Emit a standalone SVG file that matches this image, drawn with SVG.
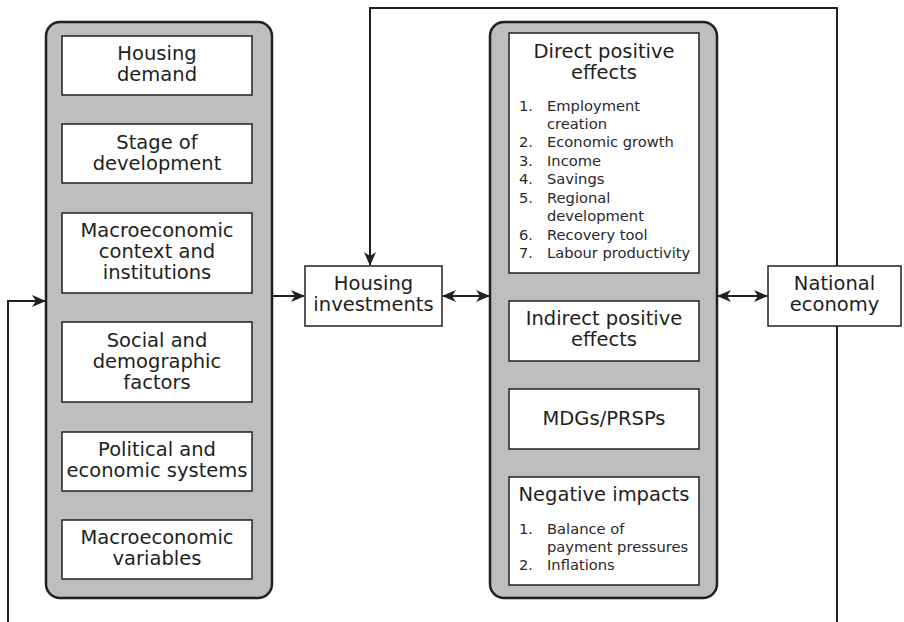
<svg xmlns="http://www.w3.org/2000/svg" width="904" height="622" viewBox="0 0 904 622">
<style>
.cont{fill:#bcbec0;stroke:#231f20;stroke-width:2.5}
.box{fill:#fff;stroke:#231f20;stroke-width:1.5}
.t{font-family:"DejaVu Sans","Open Sans","Liberation Sans",sans-serif;font-size:19.5px;fill:#231f20;text-anchor:middle}
.l{font-family:"DejaVu Sans","Open Sans","Liberation Sans",sans-serif;font-size:14.7px;fill:#2b2829}
.c{fill:none;stroke:#231f20;stroke-width:2}
</style>
<defs>
<marker id="ah" markerUnits="userSpaceOnUse" markerWidth="14" markerHeight="12" refX="13" refY="6" orient="auto-start-reverse" viewBox="0 0 14 12">
<path d="M0,0 L14,6 L0,12 L4,6 z" fill="#231f20"/>
</marker>
</defs>
<g id="connectors">
<path class="c" d="M8,622 V301 H45" marker-end="url(#ah)"/>
<path class="c" d="M272,296 H304" marker-end="url(#ah)"/>
<path class="c" d="M443,296 H489" marker-start="url(#ah)" marker-end="url(#ah)"/>
<path class="c" d="M718,296 H767" marker-start="url(#ah)" marker-end="url(#ah)"/>
<path class="c" d="M837,266 V8 H370 V265" marker-end="url(#ah)"/>
<path class="c" d="M837,326 V622"/>
</g>
<g id="determinants">
<rect class="cont" x="46" y="22" width="226" height="576" rx="14"/>
</g>
<g id="housing-demand"><rect class="box" x="62" y="36" width="190" height="59"/>
<text class="t" x="157" y="60">Housing</text><text class="t" x="157" y="81">demand</text></g>
<g id="stage-of-development"><rect class="box" x="62" y="124" width="190" height="59"/>
<text class="t" x="157" y="149">Stage of</text><text class="t" x="157" y="170">development</text></g>
<g id="macro-context"><rect class="box" x="62" y="213" width="190" height="80"/>
<text class="t" x="157" y="237">Macroeconomic</text><text class="t" x="157" y="258">context and</text><text class="t" x="157" y="279">institutions</text></g>
<g id="social-demographic"><rect class="box" x="62" y="322" width="190" height="80"/>
<text class="t" x="157" y="347">Social and</text><text class="t" x="157" y="368">demographic</text><text class="t" x="157" y="389">factors</text></g>
<g id="political-economic"><rect class="box" x="62" y="432" width="190" height="59"/>
<text class="t" x="157" y="456">Political and</text><text class="t" x="157" y="477">economic systems</text></g>
<g id="macro-variables"><rect class="box" x="62" y="520" width="190" height="59"/>
<text class="t" x="157" y="544">Macroeconomic</text><text class="t" x="157" y="565">variables</text></g>
<g id="housing-investments"><rect class="box" x="305" y="266" width="137" height="60"/>
<text class="t" x="373.5" y="290">Housing</text><text class="t" x="373.5" y="311">investments</text></g>
<g id="effects">
<rect class="cont" x="490" y="22" width="227" height="576" rx="14"/>
</g>
<g id="direct-positive"><rect class="box" x="509" y="33" width="190" height="240"/>
<text class="t" x="604" y="58">Direct positive</text><text class="t" x="604" y="79">effects</text>
<text class="l" x="519" y="111">1.</text><text class="l" x="547" y="111">Employment</text>
<text class="l" x="547" y="129">creation</text>
<text class="l" x="519" y="147">2.</text><text class="l" x="547" y="147">Economic growth</text>
<text class="l" x="519" y="166">3.</text><text class="l" x="547" y="166">Income</text>
<text class="l" x="519" y="184">4.</text><text class="l" x="547" y="184">Savings</text>
<text class="l" x="519" y="203">5.</text><text class="l" x="547" y="203">Regional</text>
<text class="l" x="547" y="221">development</text>
<text class="l" x="519" y="240">6.</text><text class="l" x="547" y="240">Recovery tool</text>
<text class="l" x="519" y="258">7.</text><text class="l" x="547" y="258">Labour productivity</text>
</g>
<g id="indirect-positive"><rect class="box" x="509" y="301" width="190" height="60"/>
<text class="t" x="604" y="325">Indirect positive</text><text class="t" x="604" y="346">effects</text></g>
<g id="mdgs"><rect class="box" x="509" y="389" width="190" height="60"/>
<text class="t" x="604" y="425">MDGs/PRSPs</text></g>
<g id="negative-impacts"><rect class="box" x="509" y="477" width="190" height="108"/>
<text class="t" x="604" y="501">Negative impacts</text>
<text class="l" x="519" y="534">1.</text><text class="l" x="547" y="534">Balance of</text>
<text class="l" x="547" y="552">payment pressures</text>
<text class="l" x="519" y="570">2.</text><text class="l" x="547" y="570">Inflations</text>
</g>
<g id="national-economy"><rect class="box" x="768" y="266" width="133" height="60"/>
<text class="t" x="834.5" y="290">National</text><text class="t" x="834.5" y="311">economy</text></g>
</svg>
